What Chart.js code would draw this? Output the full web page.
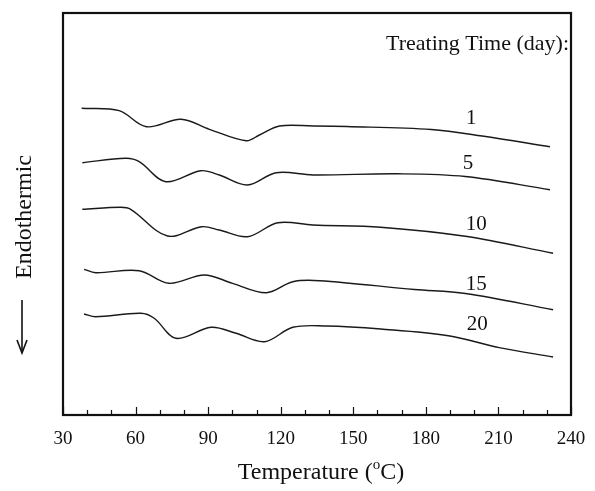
<!DOCTYPE html>
<html>
<head>
<meta charset="utf-8">
<script src="https://cdn.jsdelivr.net/npm/chart.js@4.4.0/dist/chart.umd.min.js"></script>
<style>
html,body{margin:0;padding:0;background:#fff;}
#wrap{width:595px;height:491px;position:relative;}
</style>
</head>
<body>
<div id="wrap"><canvas id="c" width="595" height="491"></canvas></div>
<script>
// Temperature (°C) and relative heat-flow (arbitrary units, larger = higher on plot)
const tempDay1  = [37.7, 53.2, 64.5, 78.8, 90.5, 105.7, 111.2, 119.5, 133.3, 147.3, 182.3, 203.3, 231.3];
const heatDay1  = [306.7, 304.3, 288.3, 295.7, 285.7, 274.3, 280, 289, 289, 288.5, 285.5, 279, 268.2];
const tempDay5  = [38, 56, 61.5, 72.5, 87, 94.6, 106.3, 118.1, 133.3, 168.3, 196.3, 231.3];
const heatDay5  = [252.3, 256.7, 253.3, 233.3, 244.3, 240, 230, 242.3, 240, 241.2, 238.5, 225.3];
const tempDay10 = [38, 53.9, 58, 73.2, 87.4, 94.6, 106.3, 118.8, 133.3, 161.3, 196.3, 232.6];
const heatDay10 = [205.7, 207.7, 205.7, 179, 188.3, 185, 178.3, 192.3, 190, 187.8, 178.7, 161.8];
const tempDay15 = [38.7, 43.5, 61.5, 73.9, 88.4, 100.1, 114, 125, 136, 175.3, 196.3, 232.6];
const heatDay15 = [145.7, 142.3, 144.3, 131.7, 140, 131.7, 122.3, 133.3, 134.3, 125.5, 121.5, 105.3];
const tempDay20 = [38.7, 43.5, 62.2, 67.7, 76.7, 91.2, 101.5, 113.3, 125, 138.8, 161.3, 189.3, 210.3, 232.6];
const heatDay20 = [101, 98.3, 101.7, 96.7, 76.7, 87.7, 81.7, 73.3, 87.7, 89, 86, 79.3, 67.4, 58];

const seriesNames = ["1", "5", "10", "15", "20"];
const labelTemps  = [198.8, 197.4, 200.8, 200.8, 201.2];
const labelHeats  = [297, 252, 191, 131, 91];

const xTicks = [30, 60, 90, 120, 150, 180, 210, 240];
const legendTitle = "Treating Time (day):";
const xTitleMain = "Temperature (";
const xTitleSup = "o";
const xTitleEnd = "C)";
const yTitle = "Endothermic";

const SERIF = "'Liberation Serif', 'Times New Roman', serif";

function pts(t, h){ return t.map((v,i)=>({x:v, y:h[i]})); }
const allT = [tempDay1,tempDay5,tempDay10,tempDay15,tempDay20];
const allH = [heatDay1,heatDay5,heatDay10,heatDay15,heatDay20];

const datasets = allT.map((t,i)=>({
  label: seriesNames[i],
  data: pts(t, allH[i]),
  borderColor: '#1a1a1a',
  borderWidth: 1.4,
  pointRadius: 0,
  tension: 0.35,
  fill: false
}));

const decor = {
  id: 'decor',
  afterDraw(chart){
    const ctx = chart.ctx, a = chart.chartArea;
    const xs = chart.scales.x, ys = chart.scales.y;
    ctx.save();
    // frame
    ctx.strokeStyle = '#111';
    ctx.lineWidth = 2.2;
    ctx.strokeRect(a.left, a.top, a.right - a.left, a.bottom - a.top);
    // inward ticks on bottom axis
    ctx.lineWidth = 1.2;
    for (let v = 30; v <= 240; v += 10) {
      const px = Math.round(xs.getPixelForValue(v)) + 0.5;
      const len = (v % 30 === 0) ? 8 : 5;
      ctx.beginPath();
      ctx.moveTo(px, a.bottom);
      ctx.lineTo(px, a.bottom - len);
      ctx.stroke();
    }
    // series labels
    ctx.fillStyle = '#111';
    ctx.font = "21px " + SERIF;
    ctx.textAlign = 'center';
    ctx.textBaseline = 'middle';
    seriesNames.forEach((n,i)=>{
      ctx.fillText(n, xs.getPixelForValue(labelTemps[i]), ys.getPixelForValue(labelHeats[i]));
    });
    // legend title
    ctx.font = "22px " + SERIF;
    ctx.textAlign = 'right';
    ctx.fillText(legendTitle, a.right - 2, a.top + 31);
    // x title with superscript
    const big = "24px " + SERIF, small = "15px " + SERIF;
    ctx.textAlign = 'left';
    ctx.textBaseline = 'alphabetic';
    ctx.font = big;
    const w1 = ctx.measureText(xTitleMain).width;
    const w3 = ctx.measureText(xTitleEnd).width;
    ctx.font = small;
    const w2 = ctx.measureText(xTitleSup).width;
    const total = w1 + w2 + w3;
    const cx = (a.left + a.right) / 2 + 4;
    let x0 = cx - total / 2;
    const base = 479;
    ctx.font = big; ctx.fillText(xTitleMain, x0, base);
    ctx.font = small; ctx.fillText(xTitleSup, x0 + w1, base - 10);
    ctx.font = big; ctx.fillText(xTitleEnd, x0 + w1 + w2, base);
    // y title rotated with arrow
    ctx.save();
    ctx.translate(31, 217);
    ctx.rotate(-Math.PI/2);
    ctx.font = "24px " + SERIF;
    ctx.textAlign = 'center';
    ctx.textBaseline = 'alphabetic';
    ctx.fillText(yTitle, 0, 0);
    ctx.restore();
    // arrow
    ctx.strokeStyle = '#111';
    ctx.lineWidth = 1.6;
    ctx.beginPath();
    ctx.moveTo(22, 300);
    ctx.lineTo(22, 352);
    ctx.stroke();
    ctx.beginPath();
    ctx.moveTo(17, 340);
    ctx.lineTo(22, 353);
    ctx.lineTo(27, 340);
    ctx.stroke();
    ctx.restore();
  }
};

new Chart(document.getElementById('c'), {
  type: 'line',
  data: { datasets },
  options: {
    responsive: false,
    animation: false,
    devicePixelRatio: 1,
    layout: { padding: { left: 63, right: 24, top: 13, bottom: 0 } },
    plugins: { legend: { display: false }, tooltip: { enabled: false } },
    scales: {
      x: {
        type: 'linear', min: 30, max: 240,
        afterBuildTicks(s){ s.ticks = xTicks.map(v=>({value:v})); },
        afterFit(s){ s.height = 76; s.paddingLeft = 0; s.paddingRight = 0; },
        grid: { display: false, drawTicks: false },
        border: { display: false },
        ticks: { color: '#111', font: { family: SERIF, size: 19 }, padding: 13, maxRotation: 0, autoSkip: false }
      },
      y: {
        display: false, min: 0, max: 402
      }
    }
  },
  plugins: [decor]
});
</script>
</body>
</html>
